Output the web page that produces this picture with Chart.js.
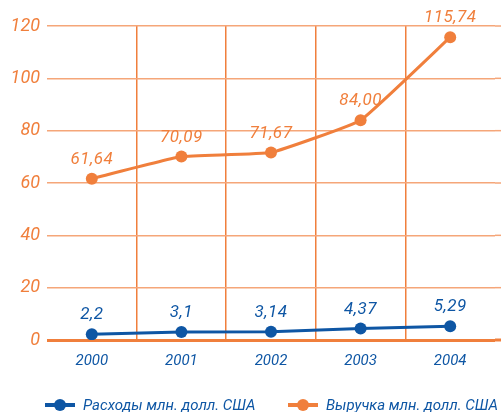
<!DOCTYPE html>
<html>
<head>
<meta charset="utf-8">
<script src="https://cdn.jsdelivr.net/npm/chart.js@4/dist/chart.umd.min.js"></script>
<style>
  body { margin: 0; background: #fff; }
  #wrap { position: relative; width: 501px; height: 412px; }
  #legend { position: absolute; left: 0; top: 395px; width: 501px; height: 20px;
            font: italic 15px Roboto, sans-serif; color: #0e56a4; }
  .item { position: absolute; top: 0; height: 20px; line-height: 20px; white-space: nowrap; }
  .mark { position: absolute; top: 8px; width: 30px; height: 4px; }
  .mark i { position: absolute; left: 9px; top: -4px; width: 12px; height: 12px; border-radius: 50%; }
  .txt { position: absolute; left: 38px; top: 0; }
</style>
</head>
<body>
<div id="wrap">
  <canvas id="chart" width="501" height="412"></canvas>
  <div id="legend"></div>
</div>
<script>
// Years and values, млн. долл. США
const years = ['2000', '2001', '2002', '2003', '2004'];
const expenses = [2.2, 3.1, 3.14, 4.37, 5.29];
const revenue = [61.64, 70.09, 71.67, 84.00, 115.74];
const yMin = 0, yMax = 120, yStep = 20;

const ORANGE = '#f07f3c';
const BLUE = '#0e56a4';
const FONT = 'Roboto, sans-serif';

// value labels above each point, decimal comma
const valueLabels = {
  id: 'valueLabels',
  afterDatasetsDraw(chart) {
    const ctx = chart.ctx;
    ctx.save();
    ctx.font = 'italic 17px ' + FONT;
    ctx.letterSpacing = '0.5px';
    ctx.textAlign = 'center';
    ctx.textBaseline = 'middle';
    chart.data.datasets.forEach((ds, i) => {
      const meta = chart.getDatasetMeta(i);
      ctx.fillStyle = ds.borderColor;
      meta.data.forEach((pt, j) => {
        const v = ds.data[j];
        const s = (ds.fixed ? v.toFixed(ds.fixed) : String(v)).replace('.', ',');
        ctx.fillText(s, pt.x, pt.y - 19);
      });
    });
    ctx.restore();
  }
};

// horizontal rules run on to the right edge of the canvas
const ruleTail = {
  id: 'ruleTail',
  beforeDatasetsDraw(chart) {
    const { ctx, chartArea, scales } = chart;
    ctx.save();
    scales.y.ticks.forEach(t => {
      const y = scales.y.getPixelForValue(t.value);
      ctx.strokeStyle = t.value === 0 ? ORANGE : '#f5a679';
      ctx.lineWidth = t.value === 0 ? 3 : 1.5;
      ctx.beginPath();
      ctx.moveTo(chartArea.right, y);
      ctx.lineTo(chart.width, y);
      ctx.stroke();
    });
    ctx.restore();
  }
};

const chart = new Chart(document.getElementById('chart'), {
  type: 'line',
  data: {
    labels: years,
    datasets: [
      {
        label: 'Расходы млн. долл. США',
        data: expenses,
        borderColor: BLUE, backgroundColor: BLUE,
        borderWidth: 3, pointRadius: 6, pointBorderWidth: 0,
        tension: 0, fixed: 0
      },
      {
        label: 'Выручка млн. долл. США',
        data: revenue,
        borderColor: ORANGE, backgroundColor: ORANGE,
        borderWidth: 3, pointRadius: 6, pointBorderWidth: 0,
        tension: 0.1, fixed: 2
      }
    ]
  },
  options: {
    responsive: false,
    animation: false,
    layout: { padding: { top: 26, right: 4, bottom: 40, left: 0 } },
    plugins: { legend: { display: false }, tooltip: { enabled: false } },
    scales: {
      x: {
        offset: true,
        border: { display: false },
        grid: {
          offset: true,
          drawTicks: false,
          lineWidth: 1.5,
          color: c => (c.type === 'tick' && c.index > 0) ? ORANGE : 'rgba(0,0,0,0)'
        },
        ticks: { color: BLUE, padding: 12, font: { family: FONT, size: 15, style: 'italic' } },
        afterFit: s => { s.height = 32; }
      },
      y: {
        min: yMin, max: yMax,
        border: { display: false },
        grid: {
          drawTicks: false,
          lineWidth: c => c.tick && c.tick.value === 0 ? 3 : 1.5,
          color: c => c.tick && c.tick.value === 0 ? ORANGE : '#f5a679'
        },
        ticks: { stepSize: yStep, color: ORANGE, padding: 7, font: { family: FONT, size: 18, style: 'italic' } },
        afterFit: s => { s.width = 47; }
      }
    }
  },
  plugins: [ruleTail, valueLabels]
});

// legend row under the chart
const legend = document.getElementById('legend');
const pos = [45, 288];
chart.data.datasets.forEach((ds, i) => {
  const item = document.createElement('div');
  item.className = 'item';
  item.style.left = pos[i] + 'px';
  item.innerHTML = '<span class="mark" style="background:' + ds.borderColor + '"><i style="background:' +
    ds.borderColor + '"></i></span><span class="txt">' + ds.label + '</span>';
  legend.appendChild(item);
});
</script>
</body>
</html>
